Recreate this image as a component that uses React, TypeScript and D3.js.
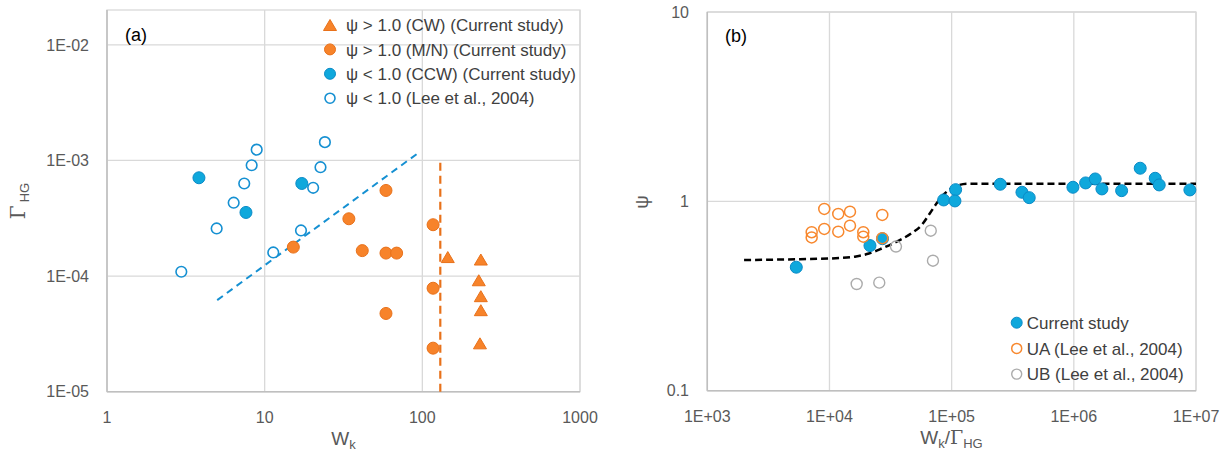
import React from 'react';
import * as d3 from 'd3';

const W = 1229;
const H = 452;

// ---------- Panel (a) data ----------
const aTicksX = [1, 10, 100, 1000];
const aTickLabelsX = ['1', '10', '100', '1000'];
const aTicksY = [1e-5, 1e-4, 1e-3, 1e-2];
const aTickLabelsY = ['1E-05', '1E-04', '1E-03', '1E-02'];

const cwTriangles: [number, number][] = [
  [145, 1.46e-4], [235, 1.39e-4], [228, 9.2e-5], [235, 6.7e-5], [235, 5.07e-5], [232, 2.62e-5],
];
const mnCircles: [number, number][] = [
  [15.2, 1.78e-4], [34.2, 3.13e-4], [58.8, 5.5e-4], [117, 2.78e-4], [41.6, 1.66e-4],
  [58.8, 1.58e-4], [68.7, 1.58e-4], [117, 7.85e-5], [58.8, 4.75e-5], [117, 2.38e-5],
];
const ccwCircles: [number, number][] = [
  [3.83, 7.08e-4], [7.61, 3.55e-4], [17.2, 6.32e-4],
];
const leeOpenA: [number, number][] = [
  [2.96, 1.09e-4], [4.96, 2.58e-4], [6.36, 4.31e-4], [7.42, 6.32e-4], [8.27, 9.09e-4],
  [8.9, 1.24e-3], [11.34, 1.6e-4], [17, 2.48e-4], [20.3, 5.8e-4], [22.6, 8.74e-4], [24.1, 1.44e-3],
];
const blueDashA: [number, number][] = [[5, 6.2e-5], [95, 1.17e-3]];
const orangeDashA: [number, number][] = [[130, 1e-5], [130, 1e-3]];
const legendA = [
  'ψ > 1.0 (CW) (Current study)',
  'ψ > 1.0 (M/N) (Current study)',
  'ψ < 1.0 (CCW) (Current study)',
  'ψ < 1.0 (Lee et al., 2004)',
];

// ---------- Panel (b) data ----------
const bTicksX = [1e3, 1e4, 1e5, 1e6, 1e7];
const bTickLabelsX = ['1E+03', '1E+04', '1E+05', '1E+06', '1E+07'];
const bTicksY = [0.1, 1, 10];
const bTickLabelsY = ['0.1', '1', '10'];

const currentB: [number, number][] = [
  [5350, 0.449], [21450, 0.584], [27150, 0.635], [86000, 1.017], [107800, 1.153],
  [106400, 1.005], [249900, 1.231], [376200, 1.117], [431500, 1.046], [983000, 1.187],
  [1.249e6, 1.251], [1.497e6, 1.313], [1.698e6, 1.163], [2.462e6, 1.139], [3.494e6, 1.496],
  [4.636e6, 1.324], [5.0e6, 1.221], [8.91e6, 1.149],
];
const uaB: [number, number][] = [
  [7150, 0.687], [7150, 0.645], [9066, 0.912], [9066, 0.715], [11800, 0.858], [11800, 0.692],
  [14720, 0.882], [14720, 0.744], [18910, 0.687], [18910, 0.651], [27050, 0.848], [27050, 0.639],
];
const ubB: [number, number][] = [
  [16700, 0.366], [25560, 0.372], [35010, 0.577], [67450, 0.7], [70300, 0.486],
];
const fitCurveB: [number, number][] = [
  [2000, 0.49], [5735, 0.495], [12000, 0.502], [16500, 0.512], [21000, 0.53], [27000, 0.565],
  [35480, 0.613], [47070, 0.679], [56830, 0.75], [66430, 0.865], [75390, 0.977],
  [85370, 1.081], [105000, 1.19], [135000, 1.24], [1e7, 1.24],
];
const legendB = ['Current study', 'UA (Lee et al., 2004)', 'UB (Lee et al., 2004)'];

// ---------- styles ----------
const FONT = "'Liberation Sans', Arial, sans-serif";
const GRID = '#D9D9D9';
const AXIS = '#BFBFBF';
const TICK = '#595959';
const LEG = '#404040';
const BLUE_FILL = '#0FA8DC';
const BLUE_STROKE = '#0B8BC7';
const OPEN_BLUE = '#1590D2';
const OR_FILL = '#F7832A';
const OR_STROKE = '#E8711A';
const OR_OPEN = '#F8882E';
const GRAY = '#ABABAB';

const xA = d3.scaleLog().domain([1, 1000]).range([107, 580]);
const yA = d3.scaleLog().domain([1e-5, 0.02]).range([391.7, 10]);
const xB = d3.scaleLog().domain([1e3, 1e7]).range([707.3, 1196]);
const yB = d3.scaleLog().domain([0.1, 10]).range([390.7, 12]);

const triPath = (cx: number, cy: number, s = 13, h = 11) =>
  `M${cx},${cy - h / 2}L${cx + s / 2},${cy + h / 2}L${cx - s / 2},${cy + h / 2}Z`;

const Tri = ({ x, y }: { x: number; y: number }) => (
  <path d={triPath(x, y)} fill={OR_FILL} stroke={OR_STROKE} strokeWidth={1} strokeLinejoin="round" />
);
const Dot = ({ x, y, fill, stroke, r = 6, sw = 1 }: any) => (
  <circle cx={x} cy={y} r={r} fill={fill} stroke={stroke} strokeWidth={sw} />
);

export default function App() {
  const lineA = d3.line<[number, number]>().x((d) => xA(d[0])).y((d) => yA(d[1]));
  const lineB = d3
    .line<[number, number]>()
    .x((d) => xB(d[0]))
    .y((d) => yB(d[1]))
    .curve(d3.curveMonotoneX);

  const [a0, a1] = xA.range();
  const [ab, at] = yA.range();
  const [b0, b1] = xB.range();
  const [bb, bt] = yB.range();

  return (
    <svg
      width={W}
      height={H}
      style={{ position: 'absolute', left: 0, top: 0, background: '#fff' }}
      fontFamily={FONT}
    >
      <rect x={0} y={0} width={W} height={H} fill="#fff" />
      {/* ============ Panel (a) ============ */}
      <g>
        <rect x={a0} y={at} width={a1 - a0} height={ab - at} fill="none" stroke={GRID} strokeWidth={1.3} />
        {aTicksX.map((t) => (
          <line key={'gxa' + t} x1={xA(t)} x2={xA(t)} y1={at} y2={ab} stroke={GRID} strokeWidth={1.3} />
        ))}
        {aTicksY.map((t) => (
          <line key={'gya' + t} x1={a0} x2={a1} y1={yA(t)} y2={yA(t)} stroke={GRID} strokeWidth={1.3} />
        ))}
        <line x1={a0} x2={a0} y1={at} y2={ab} stroke={AXIS} strokeWidth={1.5} />
        <line x1={a0} x2={a1} y1={ab} y2={ab} stroke={AXIS} strokeWidth={1.5} />
        {aTicksY.map((t, i) => (
          <text key={'tya' + t} x={89} y={yA(t)} dy="0.36em" textAnchor="end" fontSize={16} fill={TICK}>
            {aTickLabelsY[i]}
          </text>
        ))}
        {aTicksX.map((t, i) => (
          <text key={'txa' + t} x={xA(t)} y={417} dy="0.36em" textAnchor="middle" fontSize={16} fill={TICK}>
            {aTickLabelsX[i]}
          </text>
        ))}
        <text x={343.5} y={445} textAnchor="middle" fontSize={19} fill={TICK}>
          W<tspan fontSize={13} dy={4}>k</tspan>
        </text>
        <text transform="translate(25,201) rotate(-90)" textAnchor="middle" fontSize={20} fill={TICK}>
          <tspan fontFamily="'DejaVu Serif', serif">Γ</tspan>
          <tspan fontSize={13} dx={3} dy={4}>HG</tspan>
        </text>
        <text x={125} y={41} fontSize={18} fill="#000">(a)</text>

        {/* dashed lines */}
        <path d={lineA(blueDashA) || ''} stroke={OPEN_BLUE} strokeWidth={2} strokeDasharray="7 5" fill="none" />
        <path d={lineA(orangeDashA) || ''} stroke={OR_STROKE} strokeWidth={2.2} strokeDasharray="8 5" fill="none" />

        {leeOpenA.map((d, i) => (
          <Dot key={'lo' + i} x={xA(d[0])} y={yA(d[1])} r={5.3} fill="#fff" stroke={OPEN_BLUE} sw={1.6} />
        ))}
        {ccwCircles.map((d, i) => (
          <Dot key={'cc' + i} x={xA(d[0])} y={yA(d[1])} fill={BLUE_FILL} stroke={BLUE_STROKE} />
        ))}
        {mnCircles.map((d, i) => (
          <Dot key={'mn' + i} x={xA(d[0])} y={yA(d[1])} fill={OR_FILL} stroke={OR_STROKE} />
        ))}
        {cwTriangles.map((d, i) => (
          <Tri key={'cw' + i} x={xA(d[0])} y={yA(d[1])} />
        ))}

        {/* legend */}
        {legendA.map((s, i) => {
          const y = 25 + i * 24.4;
          return (
            <g key={'la' + i}>
              {i === 0 && <Tri x={330} y={y} />}
              {i === 1 && <Dot x={330} y={y} r={5.5} fill={OR_FILL} stroke={OR_STROKE} />}
              {i === 2 && <Dot x={330} y={y} r={5.5} fill={BLUE_FILL} stroke={BLUE_STROKE} />}
              {i === 3 && <Dot x={330} y={y} r={5} fill="#fff" stroke={OPEN_BLUE} sw={1.6} />}
              <text x={346} y={y} dy="0.36em" fontSize={17} fill={LEG}>
                {s}
              </text>
            </g>
          );
        })}
      </g>

      {/* ============ Panel (b) ============ */}
      <g>
        <rect x={b0} y={bt} width={b1 - b0} height={bb - bt} fill="none" stroke={GRID} strokeWidth={1.3} />
        {bTicksX.map((t) => (
          <line key={'gxb' + t} x1={xB(t)} x2={xB(t)} y1={bt} y2={bb} stroke={GRID} strokeWidth={1.3} />
        ))}
        {bTicksY.map((t) => (
          <line key={'gyb' + t} x1={b0} x2={b1} y1={yB(t)} y2={yB(t)} stroke={GRID} strokeWidth={1.3} />
        ))}
        <line x1={b0} x2={b0} y1={bt} y2={bb} stroke={AXIS} strokeWidth={1.5} />
        <line x1={b0} x2={b1} y1={bb} y2={bb} stroke={AXIS} strokeWidth={1.5} />
        {bTicksY.map((t, i) => (
          <text key={'tyb' + t} x={689} y={yB(t)} dy="0.36em" textAnchor="end" fontSize={16} fill={TICK}>
            {bTickLabelsY[i]}
          </text>
        ))}
        {bTicksX.map((t, i) => (
          <text key={'txb' + t} x={xB(t)} y={416} dy="0.36em" textAnchor="middle" fontSize={16} fill={TICK}>
            {bTickLabelsX[i]}
          </text>
        ))}
        <text x={951.5} y={444} textAnchor="middle" fontSize={19} fill={TICK}>
          W<tspan fontSize={13} dy={4}>k</tspan>
          <tspan dy={-4}>/</tspan>
          <tspan fontFamily="'DejaVu Serif', serif">Γ</tspan>
          <tspan fontSize={13} dy={4}>HG</tspan>
        </text>
        <text transform="translate(648,202) rotate(-90)" textAnchor="middle" fontSize={19} fill={TICK}>
          ψ
        </text>
        <text x={725} y={42} fontSize={18} fill="#000">(b)</text>

        <path
          d={lineB(fitCurveB) || ''}
          stroke="#000"
          strokeWidth={2.5}
          strokeDasharray="7 4"
          fill="none"
        />

        {ubB.map((d, i) => (
          <Dot key={'ub' + i} x={xB(d[0])} y={yB(d[1])} r={5.5} fill="none" stroke={GRAY} sw={1.4} />
        ))}
        {currentB.map((d, i) => (
          <Dot key={'cb' + i} x={xB(d[0])} y={yB(d[1])} fill={BLUE_FILL} stroke={BLUE_STROKE} />
        ))}
        {uaB.map((d, i) => (
          <Dot key={'ua' + i} x={xB(d[0])} y={yB(d[1])} r={5.5} fill="none" stroke={OR_OPEN} sw={1.5} />
        ))}

        {legendB.map((s, i) => {
          const y = 322.7 + i * 25.7;
          return (
            <g key={'lb' + i}>
              {i === 0 && <Dot x={1016.7} y={y} r={5.5} fill={BLUE_FILL} stroke={BLUE_STROKE} />}
              {i === 1 && <Dot x={1016.7} y={y} r={5} fill="#fff" stroke={OR_OPEN} sw={1.5} />}
              {i === 2 && <Dot x={1016.7} y={y} r={5} fill="#fff" stroke={GRAY} sw={1.4} />}
              <text x={1026.7} y={y} dy="0.36em" fontSize={17} fill={LEG}>
                {s}
              </text>
            </g>
          );
        })}
      </g>
    </svg>
  );
}
